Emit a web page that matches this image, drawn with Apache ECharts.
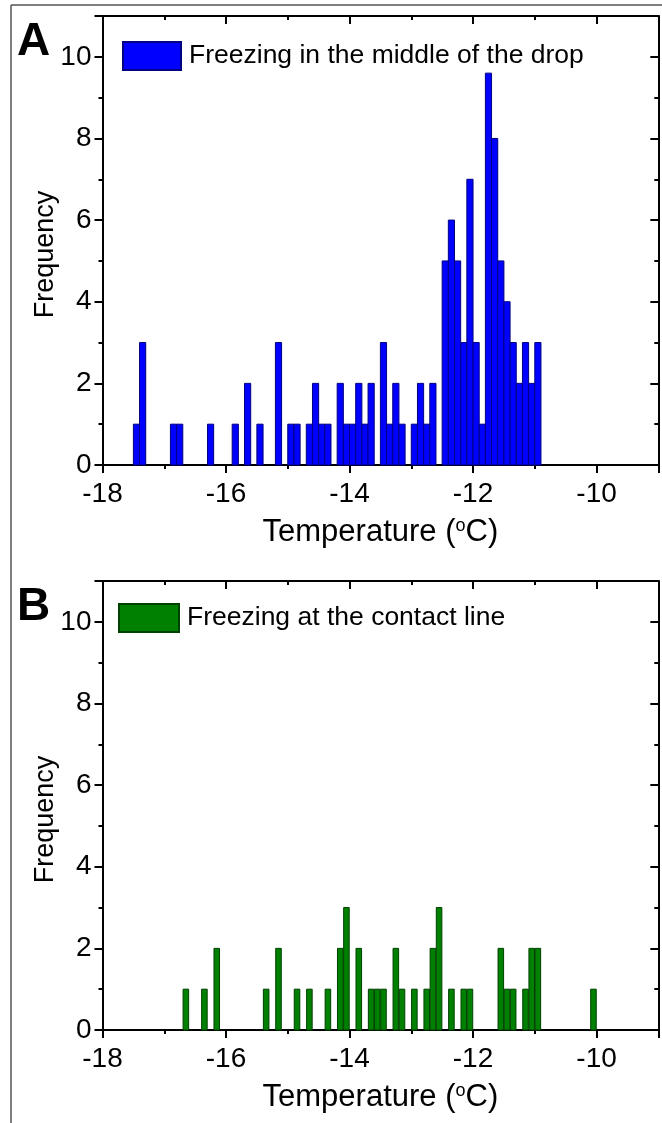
<!DOCTYPE html>
<html>
<head>
<meta charset="utf-8">
<script src="https://cdn.jsdelivr.net/npm/echarts@6/dist/echarts.min.js"></script>
<style>
html,body{margin:0;padding:0;background:#fff;}
#chart{width:662px;height:1123px;}
</style>
</head>
<body>
<div id="chart"></div>
<script>
// ---- Data (histogram bins: left edge of each 0.1 °C bin, and counts) ----
const BIN_WIDTH = 0.1;
const binStartA = [-17.5,-17.4,-16.9,-16.8,-16.3,-15.9,-15.7,-15.5,-15.2,-15.0,-14.9,-14.7,-14.6,-14.5,-14.4,
  -14.2,-14.1,-14.0,-13.9,-13.8,-13.7,-13.5,-13.4,-13.3,-13.2,-13.0,-12.9,-12.8,-12.7,
  -12.5,-12.4,-12.3,-12.2,-12.1,-12.0,-11.9,-11.8,-11.7,-11.6,-11.5,-11.4,-11.3,-11.2,-11.1,-11.0];
const countA = [1,3,1,1,1,1,2,1,3,1,1,1,2,1,1,
  2,1,1,2,1,2,3,1,2,1,1,2,1,2,
  5,6,5,3,7,3,1,9.6,8,5,4,3,2,3,2,3];
const binStartB = [-16.7,-16.4,-16.2,-15.4,-15.2,-14.9,-14.7,-14.4,-14.2,-14.1,-13.9,-13.7,-13.6,-13.5,
  -13.3,-13.2,-13.0,-12.8,-12.7,-12.6,-12.4,-12.2,-12.1,-11.6,-11.5,-11.4,-11.2,-11.1,-11.0,-10.1];
const countB = [1,1,2,1,2,1,1,1,2,3,2,1,1,1,
  2,1,1,1,2,3,1,1,1,2,1,1,1,2,2,1];
const nameA = 'Freezing in the middle of the drop';
const nameB = 'Freezing at the contact line';
const xLabelText = 'Temperature ({sup|o}C)';
const yLabelText = 'Frequency';
const panelLetters = ['A','B'];

const FONT = 'Liberation Sans, Arial, sans-serif';
const chart = echarts.init(document.getElementById('chart'), null, {renderer:'canvas'});

const grids = [
  {left:102.5, right:3.7, top:16, height:449},
  {left:102.5, right:3.7, top:581, height:449}
];

const xAxes = [], yAxes = [];
grids.forEach((g, gi) => {
  const baseX = {gridIndex:gi, type:'value', min:-18, max:-9, splitLine:{show:false}};
  const baseY = {gridIndex:gi, type:'value', min:0, max:11, splitLine:{show:false}};
  xAxes.push(Object.assign({}, baseX, {
    position:'bottom', interval:2,
    axisLine:{show:true, onZero:false, lineStyle:{color:'#000', width:2}},
    axisTick:{show:true, inside:false, length:8, lineStyle:{color:'#000', width:2}},
    axisLabel:{show:true, margin:15, fontSize:28, color:'#000', fontFamily:FONT,
      formatter: v => (Math.abs(v % 2) < 1e-9 ? String(v) : '')},
    name:xLabelText, nameLocation:'middle', nameGap:52,
    nameTextStyle:{fontSize:31, color:'#000', fontFamily:FONT,
      rich:{sup:{fontSize:18, color:'#000', fontFamily:FONT, verticalAlign:'top', padding:[0,0,11,0]}}}
  }));
  xAxes.push(Object.assign({}, baseX, {
    position:'bottom', interval:1,
    axisLine:{show:false, onZero:false},
    axisTick:{show:true, inside:false, length:4, lineStyle:{color:'#000', width:2}},
    axisLabel:{show:false}
  }));
  xAxes.push(Object.assign({}, baseX, {
    position:'top', interval:2,
    axisLine:{show:true, onZero:false, lineStyle:{color:'#000', width:2}},
    axisTick:{show:true, inside:true, length:8, lineStyle:{color:'#000', width:2}},
    axisLabel:{show:false}
  }));
  xAxes.push(Object.assign({}, baseX, {
    position:'top', interval:1,
    axisLine:{show:false, onZero:false},
    axisTick:{show:true, inside:true, length:4, lineStyle:{color:'#000', width:2}},
    axisLabel:{show:false}
  }));
  yAxes.push(Object.assign({}, baseY, {
    position:'left', interval:2,
    axisLine:{show:true, onZero:false, lineStyle:{color:'#000', width:2}},
    axisTick:{show:true, inside:false, length:8, lineStyle:{color:'#000', width:2}},
    axisLabel:{show:true, margin:11, fontSize:28, color:'#000', fontFamily:FONT,
      formatter: v => (Math.abs(v % 2) < 1e-9 ? String(v) : '')}
  }));
  yAxes.push(Object.assign({}, baseY, {
    position:'left', interval:1,
    axisLine:{show:false, onZero:false},
    axisTick:{show:true, inside:false, length:4, lineStyle:{color:'#000', width:2}},
    axisLabel:{show:false}
  }));
  yAxes.push(Object.assign({}, baseY, {
    position:'right', interval:2,
    axisLine:{show:true, onZero:false, lineStyle:{color:'#000', width:2}},
    axisTick:{show:true, inside:true, length:8, lineStyle:{color:'#000', width:2}},
    axisLabel:{show:false}
  }));
  yAxes.push(Object.assign({}, baseY, {
    position:'right', interval:1,
    axisLine:{show:false, onZero:false},
    axisTick:{show:true, inside:true, length:4, lineStyle:{color:'#000', width:2}},
    axisLabel:{show:false}
  }));
});

function histSeries(name, starts, counts, gi, fill, stroke, widthFrac) {
  return {
    name: name,
    type: 'custom',
    coordinateSystem: 'cartesian2d',
    xAxisIndex: gi * 4,
    yAxisIndex: gi * 4,
    itemStyle: {color: fill, borderColor: stroke, borderWidth: 1},
    data: starts.map((s, i) => [s, counts[i]]),
    encode: {x: 0, y: 1},
    renderItem: function (params, api) {
      const x0 = api.value(0), v = api.value(1);
      const pad = BIN_WIDTH * (1 - widthFrac) / 2;
      const p0 = api.coord([x0 + pad, v]);
      const p1 = api.coord([x0 + BIN_WIDTH - pad, 0]);
      return {
        type: 'rect',
        shape: {x: p0[0], y: p0[1], width: p1[0] - p0[0], height: p1[1] - p0[1]},
        style: {fill: fill, stroke: stroke, lineWidth: 1}
      };
    }
  };
}

const yNameGraphics = grids.map(g => ({
  type:'text', x:46, y:g.top + g.height / 2 + 14, rotation: Math.PI / 2,
  style:{text:yLabelText, fontSize:27, fill:'#000', fontFamily:FONT, textAlign:'center', textVerticalAlign:'middle'}
}));

const option = {
  animation: false,
  backgroundColor: '#fff',
  grid: grids,
  xAxis: xAxes,
  yAxis: yAxes,
  legend: [
    {data:[nameA], left:117, top:36, icon:'rect', itemWidth:58, itemHeight:28,
      textStyle:{fontSize:26.5, color:'#000', fontFamily:FONT, padding:[2,0,0,3]}},
    {data:[nameB], left:113, top:598, icon:'rect', itemWidth:60, itemHeight:28,
      textStyle:{fontSize:26.5, color:'#000', fontFamily:FONT, padding:[2,0,0,3]}}
  ],
  series: [
    histSeries(nameA, binStartA, countA, 0, '#0000FF', '#000080', 1.0),
    histSeries(nameB, binStartB, countB, 1, '#008000', '#004000', 0.9)
  ],
  graphic: [
    {type:'line', shape:{x1:11, y1:5, x2:662, y2:5}, style:{stroke:'#555', lineWidth:1.5}},
    {type:'line', shape:{x1:11, y1:5, x2:11, y2:1123}, style:{stroke:'#555', lineWidth:1.5}},
    {type:'text', left:17, top:19, style:{text:panelLetters[0], fontSize:46, fontWeight:'bold', fill:'#000', fontFamily:FONT}},
    {type:'text', left:17, top:584, style:{text:panelLetters[1], fontSize:46, fontWeight:'bold', fill:'#000', fontFamily:FONT}}
  ].concat(yNameGraphics)
};
chart.setOption(option);
</script>
</body>
</html>
